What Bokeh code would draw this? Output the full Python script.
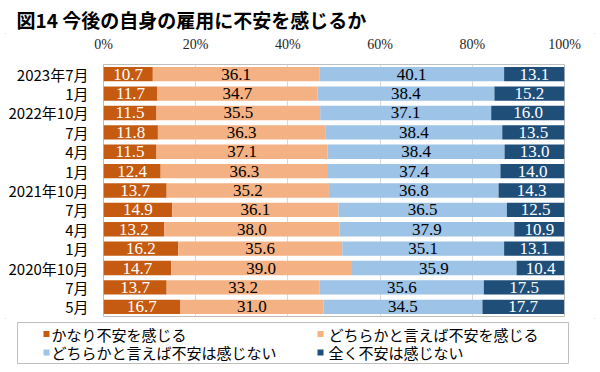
from bokeh.plotting import figure
from bokeh.layouts import column, row
from bokeh.models import Range1d, FixedTicker, ColumnDataSource
from bokeh.core.properties import value
from bokeh.embed import file_html
from bokeh.resources import INLINE

title_text = "図14 今後の自身の雇用に不安を感じるか"
categories = ["2023年7月", "1月", "2022年10月", "7月", "4月", "1月", "2021年10月",
              "7月", "4月", "1月", "2020年10月", "7月", "5月"]
series_names = ["かなり不安を感じる", "どちらかと言えば不安を感じる",
                "どちらかと言えば不安は感じない", "全く不安は感じない"]
very_anxious = [10.7, 11.7, 11.5, 11.8, 11.5, 12.4, 13.7, 14.9, 13.2, 16.2, 14.7, 13.7, 16.7]
somewhat_anxious = [36.1, 34.7, 35.5, 36.3, 37.1, 36.3, 35.2, 36.1, 38.0, 35.6, 39.0, 33.2, 31.0]
somewhat_not = [40.1, 38.4, 37.1, 38.4, 38.4, 37.4, 36.8, 36.5, 37.9, 35.1, 35.9, 35.6, 34.5]
not_at_all = [13.1, 15.2, 16.0, 13.5, 13.0, 14.0, 14.3, 12.5, 10.9, 13.1, 10.4, 17.5, 17.7]
x_ticks = [0, 20, 40, 60, 80, 100]
x_tick_labels = ["0%", "20%", "40%", "60%", "80%", "100%"]

series = [very_anxious, somewhat_anxious, somewhat_not, not_at_all]
colors = ["#C55A11", "#F4B183", "#9DC3E6", "#1F4E79"]
text_colors = ["white", "black", "black", "white"]

SERIF = "'Liberation Serif'"
SANS = "'Noto Sans CJK JP'"

W = 600
H0 = 33                 # title strip
H1 = 318 - H0           # main chart
H2 = 372 - H0 - H1      # legend strip
FL, FT, FR, FB = 103, 64 - H0, 564, 316 - H0

# ---- title strip ----
t = figure(width=W, height=H0, x_range=Range1d(0, W), y_range=Range1d(H0, 0),
           x_axis_type=None, y_axis_type=None, output_backend="svg", toolbar_location=None,
           min_border=0, min_border_left=0, min_border_right=0, min_border_top=0, min_border_bottom=0,
           background_fill_color="white", border_fill_color="white")
t.outline_line_color = None
t.grid.visible = False
t.text(x=[16], y=[19], text=[title_text], text_baseline="middle", text_align="left",
       text_font=value(SANS), text_font_size="19px", text_font_style="bold", text_color="black")

# ---- main chart ----
p = figure(width=W, height=H1, x_range=Range1d(0, 100), y_range=Range1d(len(categories) - 0.5, -0.5),
           x_axis_location="above", output_backend="svg", toolbar_location=None,
           min_border_left=FL, min_border_right=W - FR, min_border_top=FT, min_border_bottom=H1 - FB,
           background_fill_color="white", border_fill_color="white")

idx = list(range(len(categories)))
left = [0.0] * len(categories)
for vals, col, tcol in zip(series, colors, text_colors):
    right = [l + v for l, v in zip(left, vals)]
    p.hbar(y=idx, left=left, right=right, height=0.74, fill_color=col, line_color=None)
    src = ColumnDataSource(dict(x=[(l + r) / 2 for l, r in zip(left, right)], y=idx,
                                t=[f"{v:.1f}" for v in vals]))
    p.text(x="x", y="y", text="t", source=src, text_align="center", text_baseline="middle",
           text_font=value(SERIF), text_font_size="17px", text_color=tcol)
    left = right

xa = p.xaxis[0]
xa.ticker = FixedTicker(ticks=x_ticks)
xa.major_label_overrides = {t_: s for t_, s in zip(x_ticks, x_tick_labels)}
xa.axis_line_color = None
xa.major_tick_line_color = None
xa.minor_tick_line_color = None
xa.major_tick_out = 0
xa.major_tick_in = 0
xa.major_label_standoff = 13
xa.major_label_text_font = SERIF
xa.major_label_text_font_size = "14px"
xa.major_label_text_color = "#262626"

ya = p.yaxis[0]
ya.ticker = FixedTicker(ticks=idx)
ya.major_label_overrides = {i: c for i, c in zip(idx, categories)}
ya.axis_line_color = None
ya.major_tick_line_color = None
ya.minor_tick_line_color = None
ya.major_tick_out = 0
ya.major_tick_in = 0
ya.major_label_standoff = 15
ya.major_label_text_font = SANS
ya.major_label_text_font_size = "15px"
ya.major_label_text_color = "black"

p.xgrid.ticker = FixedTicker(ticks=x_ticks)
p.xgrid.grid_line_color = "#d9d9d9"
p.ygrid.grid_line_color = None
p.outline_line_color = "#bfbfbf"

# ---- legend strip: its frame is the legend box ----
LL, LT, LR, LB = 17, 322 - H0 - H1, 568, 363 - H0 - H1
q = figure(width=W, height=H2, x_range=Range1d(0, LR - LL), y_range=Range1d(LB - LT, 0),
           x_axis_type=None, y_axis_type=None, output_backend="svg", toolbar_location=None,
           min_border_left=LL, min_border_right=W - LR, min_border_top=LT, min_border_bottom=H2 - LB,
           background_fill_color="white", border_fill_color="white")
q.outline_line_color = "#bfbfbf"
q.grid.visible = False
sq_x = [29, 303, 29, 303]
txt_x = [34, 311, 34, 311]
row_y = [11.5, 11.5, 30, 30]
q.rect(x=sq_x, y=row_y, width=6, height=6, fill_color=colors, line_color=None)
q.text(x=txt_x, y=row_y, text=series_names, text_baseline="middle",
       text_align="left", text_font=value(SANS), text_font_size="15px", text_color="black")

layout = column(row(t), p, row(q), spacing=0,
                styles={"outline": "1px solid #d0d0d0", "outline-offset": "-6px"})

open("out.html", "w").write(file_html(layout, INLINE))
